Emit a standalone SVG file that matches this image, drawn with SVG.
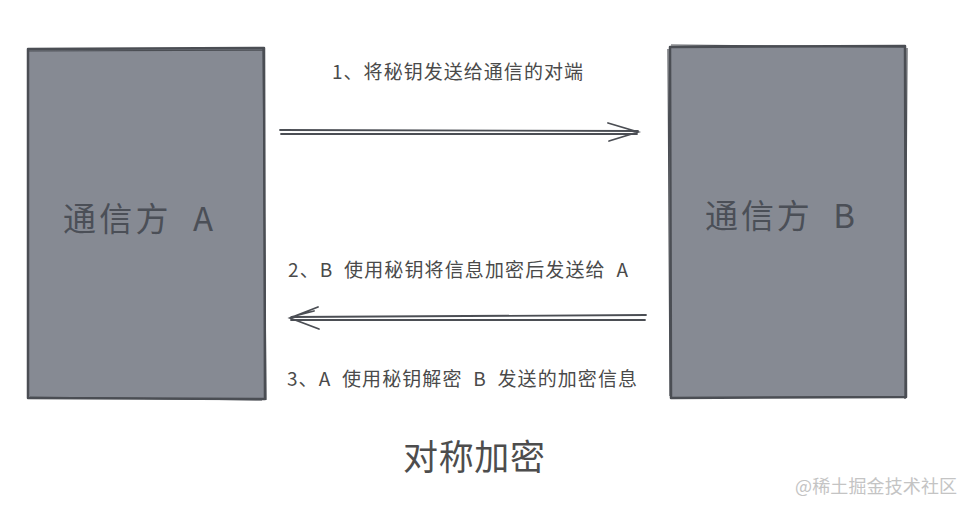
<svg xmlns="http://www.w3.org/2000/svg" width="972" height="513" viewBox="0 0 972 513">
<style>
.box{fill:#868a93;stroke:#4b4e54;stroke-width:2.5;stroke-linejoin:round}
.sk{fill:none;stroke:#4b4e54;stroke-width:1.2}
text{white-space:pre}
.nt{font-family:"Noto Sans CJK SC","Noto Sans",sans-serif;font-size:33px;fill:#4b4f57}
.lb{font-family:"Noto Sans CJK SC","Noto Sans",sans-serif;font-size:19px;fill:#4a4a4a}
.ar{fill:none;stroke:#4b4e54;stroke-width:1.8;stroke-linecap:round}
.ti{font-family:"Noto Sans CJK SC","Noto Sans",sans-serif;font-size:35px;fill:#4d4d4d}
.wm{font-family:"Noto Sans CJK SC","Noto Sans",sans-serif;font-size:18px;fill:#c4c4c4}
</style>
<rect width="972" height="513" fill="#ffffff"/>
<g id="nodeA">
<path class="box" d="M28 49 L264 48 L265 399 L28 398 Z"/>
<path class="sk" d="M27 51 L263 50 M263 48 L266 400 M30 397 L262 400"/>
<text class="nt" x="63" y="231" xml:space="preserve" textLength="150" lengthAdjust="spacing">通信方  A</text>
</g>
<g id="nodeB">
<path class="box" d="M670 47 L905 46 L906 397 L671 398 Z"/>
<path class="sk" d="M671 45 L904 47 M907 48 L905 399 M668 49 L670 396"/>
<text class="nt" x="705" y="228" xml:space="preserve" textLength="150" lengthAdjust="spacing">通信方  B</text>
</g>
<g id="connectors">
<path class="ar" d="M280 130 L638 131 M281 134 L637 134"/>
<path class="ar" d="M608 123 L638 132 L609 141"/>
<path class="ar" d="M646 315 L292 317 M645 320 L291 320"/>
<path class="ar" d="M318 307 L290 318 L319 329 M291 317 L314 311"/>
</g>
<g id="labels">
<text class="lb" x="332" y="79" textLength="251" lengthAdjust="spacing">1、将秘钥发送给通信的对端</text>
<text class="lb" x="288" y="277" xml:space="preserve" textLength="340" lengthAdjust="spacing">2、B  使用秘钥将信息加密后发送给  A</text>
<text class="lb" x="287" y="386" xml:space="preserve" textLength="350" lengthAdjust="spacing">3、A  使用秘钥解密  B  发送的加密信息</text>
<text class="ti" x="403" y="470" textLength="142" lengthAdjust="spacing">对称加密</text>
<text class="wm" x="795" y="493" textLength="162" lengthAdjust="spacing">@稀土掘金技术社区</text>
</g>
</svg>
